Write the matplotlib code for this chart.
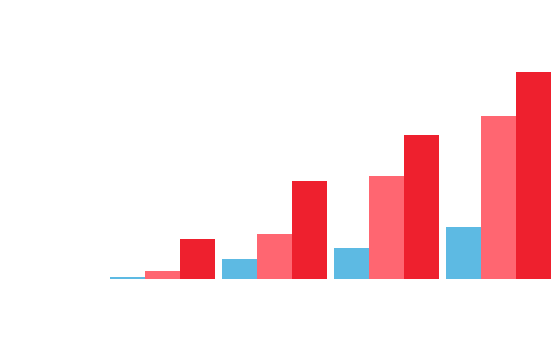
import matplotlib
matplotlib.use("Agg")
import matplotlib.pyplot as plt
import numpy as np

categories = ["A", "B", "C", "D"]
series_blue = [1.0, 9.5, 15.1, 25.0]
series_pink = [3.9, 21.7, 49.8, 78.7]
series_red = [19.3, 47.3, 69.6, 100.0]
colors = ["#5DBAE3", "#FF6671", "#EE202E"]

fig = plt.figure(figsize=(5.56, 3.57), dpi=100)
ax = fig.add_axes([0, 0, 1, 1])
x = np.arange(len(categories))
w = 35 / 112
for i, (vals, c) in enumerate(zip([series_blue, series_pink, series_red], colors)):
    ax.bar(x + (i - 1) * w, vals, width=w, color=c, linewidth=0)

px_per_unit_x = 112
ax.set_xlim(-162.5 / px_per_unit_x, (556 - 162.5) / px_per_unit_x)
ppu_y = 2.07
ax.set_ylim(-78 / ppu_y, 279 / ppu_y)
ax.axis("off")
fig.savefig("out.png", dpi=100, facecolor="white")
